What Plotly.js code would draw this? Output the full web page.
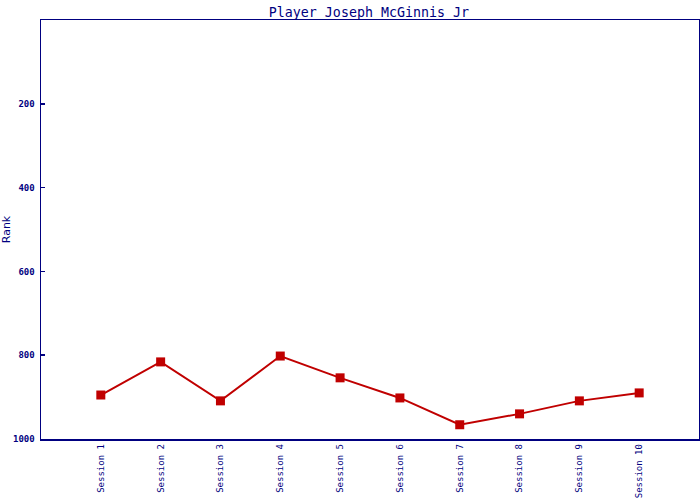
<!DOCTYPE html>
<html><head><meta charset="utf-8">
<script src="https://cdn.plot.ly/plotly-3.0.1.min.js"></script>
<style>body{margin:0;background:#fff}#c{width:700px;height:500px}</style>
</head><body><div id="c"></div>
<script>
var sessions = ["Session 1","Session 2","Session 3","Session 4","Session 5","Session 6","Session 7","Session 8","Session 9","Session 10"];
var ranks = [895, 816, 909, 802, 854, 902, 966, 940, 909, 890];
var yTicks = [200, 400, 600, 800, 1000];
var navy = "#000080";
var trace = {
  x: sessions, y: ranks, type: "scatter", mode: "lines+markers",
  line: {color: "#c00000", width: 2},
  marker: {symbol: "square", size: 9, color: "#c00000"}
};
var layout = {
  width: 700, height: 500,
  margin: {l: 41, r: 1, t: 20, b: 61},
  paper_bgcolor: "#fff", plot_bgcolor: "#fff",
  showlegend: false,
  title: {text: "Player Joseph McGinnis Jr", font: {family: "DejaVu Sans Mono", size: 13.3, color: navy}, x: 0.527, xanchor: "center", y: 0.985, yanchor: "top"},
  xaxis: {
    type: "category", range: [-1, 10], showgrid: false, zeroline: false,
    showline: true, linecolor: navy, linewidth: 1.5, mirror: true,
    ticks: "", tickangle: -90,
    tickfont: {family: "DejaVu Sans Mono", size: 9, color: navy}
  },
  yaxis: {
    range: [1000, 0], showgrid: false, zeroline: false,
    showline: true, linecolor: navy, linewidth: 1.5, mirror: true,
    tickvals: yTicks, ticktext: yTicks.map(String),
    ticks: "inside", ticklen: 4, tickcolor: navy, tickwidth: 1.5,
    ticklabelstandoff: 3,
    tickfont: {family: "DejaVu Sans Mono", size: 9, color: navy, weight: "bold"},
    title: {text: "Rank", font: {family: "DejaVu Sans", size: 11, color: navy}, standoff: 8}
  }
};
Plotly.newPlot("c", [trace], layout, {displayModeBar: false, staticPlot: true});
</script></body></html>
